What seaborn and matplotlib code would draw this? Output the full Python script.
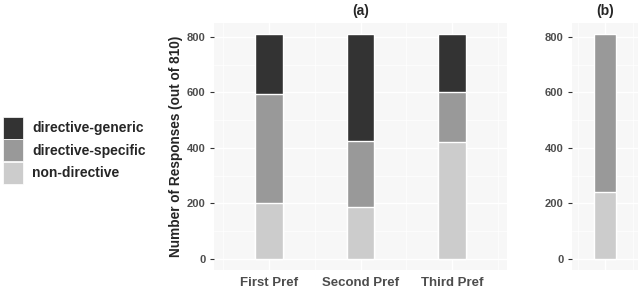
import numpy as np
import matplotlib
matplotlib.use('Agg')
import matplotlib.pyplot as plt
import pandas as pd
import seaborn as sns
from matplotlib.patches import Patch

# panel (a): responses by preference rank
prefs = ['First Pref', 'Second Pref', 'Third Pref']
non_directive = [200, 188, 422]
directive_specific = [395, 237, 178]
directive_generic = [215, 385, 210]

# panel (b): single bar
b_cats = ['all']
b_non_directive = [242]
b_directive_specific = [568]

categories = ['directive-generic', 'directive-specific', 'non-directive']
colours = {'directive-generic': '#333333',
           'directive-specific': '#999999',
           'non-directive': '#cccccc'}

sns.set_style('white')
plt.rcParams['font.family'] = ['Liberation Sans', 'DejaVu Sans']
plt.rcParams['font.weight'] = 'bold'

df = pd.DataFrame({'pref': prefs,
                   'non': non_directive,
                   'spec': np.add(non_directive, directive_specific),
                   'total': np.add(np.add(non_directive, directive_specific), directive_generic)})
dfb = pd.DataFrame({'cat': b_cats,
                    'non': b_non_directive,
                    'total': np.add(b_non_directive, b_directive_specific)})

fig = plt.figure(figsize=(6.4, 2.89), dpi=100)
ax_a = fig.add_axes([214/640, 19/289, 293/640, 247/289])
ax_b = fig.add_axes([572/640, 19/289, 66/640, 247/289])


def style_panel(ax, ncat):
    ax.set_facecolor('#f7f7f7')
    ax.set_ylim(-40.5, 850.5)
    ax.set_xlim(-0.6, ncat - 0.4)
    ax.set_yticks([0, 200, 400, 600, 800])
    ax.set_yticks([100, 300, 500, 700], minor=True)
    ax.set_xticks(np.arange(ncat + 1) - 0.5, minor=True)
    ax.grid(True, which='major', color='white', lw=1.0, zorder=0)
    ax.grid(True, which='minor', color='white', lw=0.5, zorder=0)
    ax.set_axisbelow(True)
    for s in ax.spines.values():
        s.set_visible(False)
    ax.tick_params(axis='y', which='major', length=3, width=0.8, color='#333333',
                   labelsize=8, labelcolor='#4d4d4d', pad=3, left=True)
    ax.tick_params(axis='x', which='major', length=0, labelsize=9.5,
                   labelcolor='#4d4d4d', pad=5)
    ax.tick_params(which='minor', length=0)
    ax.set_xlabel('')


sns.barplot(data=df, x='pref', y='total', color=colours['directive-generic'],
            width=0.3, saturation=1, ax=ax_a, zorder=2)
sns.barplot(data=df, x='pref', y='spec', color=colours['directive-specific'],
            width=0.3, saturation=1, ax=ax_a, zorder=3)
sns.barplot(data=df, x='pref', y='non', color=colours['non-directive'],
            width=0.3, saturation=1, ax=ax_a, zorder=4)
style_panel(ax_a, 3)
ax_a.set_ylabel('Number of Responses (out of 810)', fontsize=9.8, fontweight='bold', labelpad=3)
ax_a.set_title('(a)', fontsize=10, fontweight='bold', pad=6)

sns.barplot(data=dfb, x='cat', y='total', color=colours['directive-specific'],
            width=0.4, saturation=1, ax=ax_b, zorder=3)
sns.barplot(data=dfb, x='cat', y='non', color=colours['non-directive'],
            width=0.4, saturation=1, ax=ax_b, zorder=4)
style_panel(ax_b, 1)
ax_b.set_xticklabels([''])
ax_b.set_ylabel('')
ax_b.set_title('(b)', fontsize=10, fontweight='bold', pad=6)

handles = [Patch(facecolor=colours[c], edgecolor='white', lw=0.5, label=c) for c in categories]
fig.legend(handles=handles, loc='upper left', bbox_to_anchor=(0.0, 175/289),
           frameon=False, fontsize=10, handlelength=1.45, handleheight=2.05,
           handletextpad=0.65, labelspacing=0.05, borderaxespad=0, borderpad=0.2)

fig.savefig('out.png', dpi=100)
